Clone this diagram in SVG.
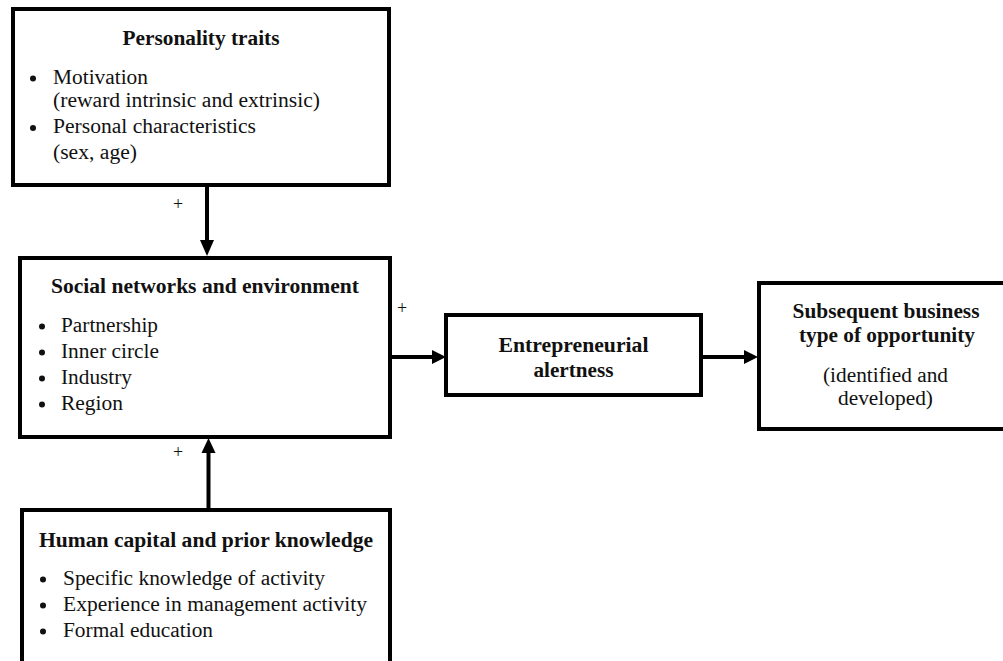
<svg xmlns="http://www.w3.org/2000/svg" width="1003" height="661" viewBox="0 0 1003 661">
<defs>
<style>
.box{fill:#fff;stroke:#000;stroke-width:4}
.t{font-family:"Liberation Serif","Times New Roman",serif;font-size:20px;fill:#111}
.b{font-weight:bold;text-anchor:middle}
.c{text-anchor:middle}
.plus{font-family:"Liberation Serif","Times New Roman",serif;font-size:18px;fill:#111;text-anchor:middle}
.dot{fill:#111}
.ln{stroke:#000;stroke-width:4;fill:none}
.ah{fill:#000}
</style>
</defs>
<rect width="1003" height="661" fill="#fff"/>
<g id="connectors">
<line class="ln" x1="207" y1="186" x2="207" y2="242"/>
<polygon class="ah" points="200,240 214,240 207,256"/>
<line class="ln" x1="208.5" y1="509" x2="208.5" y2="451"/>
<polygon class="ah" points="201.5,453 215.5,453 208.5,438"/>
<line class="ln" x1="392" y1="357" x2="434" y2="357"/>
<polygon class="ah" points="432,350 432,364 446,357"/>
<line class="ln" x1="703" y1="357" x2="746" y2="357"/>
<polygon class="ah" points="744,350 744,364 758,357"/>
<text class="plus" x="178" y="210">+</text>
<text class="plus" x="178" y="458">+</text>
<text class="plus" x="402" y="314">+</text>
</g>
<g id="personality">
<rect class="box" x="13" y="9" width="376" height="176"/>
<text class="t b" x="201" y="45" textLength="157" lengthAdjust="spacingAndGlyphs">Personality traits</text>
<circle class="dot" cx="33" cy="78.5" r="3"/>
<text class="t" x="53" y="84" textLength="95" lengthAdjust="spacingAndGlyphs">Motivation</text>
<text class="t" x="53" y="107" textLength="267" lengthAdjust="spacingAndGlyphs">(reward intrinsic and extrinsic)</text>
<circle class="dot" cx="33" cy="128" r="3"/>
<text class="t" x="53" y="133" textLength="203" lengthAdjust="spacingAndGlyphs">Personal characteristics</text>
<text class="t" x="53" y="159" textLength="84" lengthAdjust="spacingAndGlyphs">(sex, age)</text>
</g>
<g id="social">
<rect class="box" x="20" y="258" width="370" height="179"/>
<text class="t b" x="205" y="293" textLength="308" lengthAdjust="spacingAndGlyphs">Social networks and environment</text>
<circle class="dot" cx="42" cy="326.5" r="3"/>
<text class="t" x="61" y="332" textLength="97" lengthAdjust="spacingAndGlyphs">Partnership</text>
<circle class="dot" cx="42" cy="352.5" r="3"/>
<text class="t" x="61" y="358" textLength="98" lengthAdjust="spacingAndGlyphs">Inner circle</text>
<circle class="dot" cx="42" cy="378.5" r="3"/>
<text class="t" x="61" y="384" textLength="71" lengthAdjust="spacingAndGlyphs">Industry</text>
<circle class="dot" cx="42" cy="404.5" r="3"/>
<text class="t" x="61" y="410" textLength="62" lengthAdjust="spacingAndGlyphs">Region</text>
</g>
<g id="human">
<rect class="box" x="22" y="510" width="368" height="180"/>
<text class="t b" x="206" y="547" textLength="334" lengthAdjust="spacingAndGlyphs">Human capital and prior knowledge</text>
<circle class="dot" cx="43" cy="579.5" r="3"/>
<text class="t" x="63" y="585" textLength="262" lengthAdjust="spacingAndGlyphs">Specific knowledge of activity</text>
<circle class="dot" cx="43" cy="605.5" r="3"/>
<text class="t" x="63" y="611" textLength="304" lengthAdjust="spacingAndGlyphs">Experience in management activity</text>
<circle class="dot" cx="43" cy="631.5" r="3"/>
<text class="t" x="63" y="637" textLength="150" lengthAdjust="spacingAndGlyphs">Formal education</text>
</g>
<g id="alertness">
<rect class="box" x="446" y="315" width="255" height="80"/>
<text class="t b" x="573.5" y="352" textLength="150" lengthAdjust="spacingAndGlyphs">Entrepreneurial</text>
<text class="t b" x="573.5" y="377" textLength="80" lengthAdjust="spacingAndGlyphs">alertness</text>
</g>
<g id="opportunity">
<rect class="box" x="759" y="283" width="256" height="146"/>
<text class="t b" x="886" y="318" textLength="187" lengthAdjust="spacingAndGlyphs">Subsequent business</text>
<text class="t b" x="887" y="342" textLength="176" lengthAdjust="spacingAndGlyphs">type of opportunity</text>
<text class="t c" x="885.5" y="382" textLength="125" lengthAdjust="spacingAndGlyphs">(identified and</text>
<text class="t c" x="885.5" y="405" textLength="95" lengthAdjust="spacingAndGlyphs">developed)</text>
</g>
</svg>
